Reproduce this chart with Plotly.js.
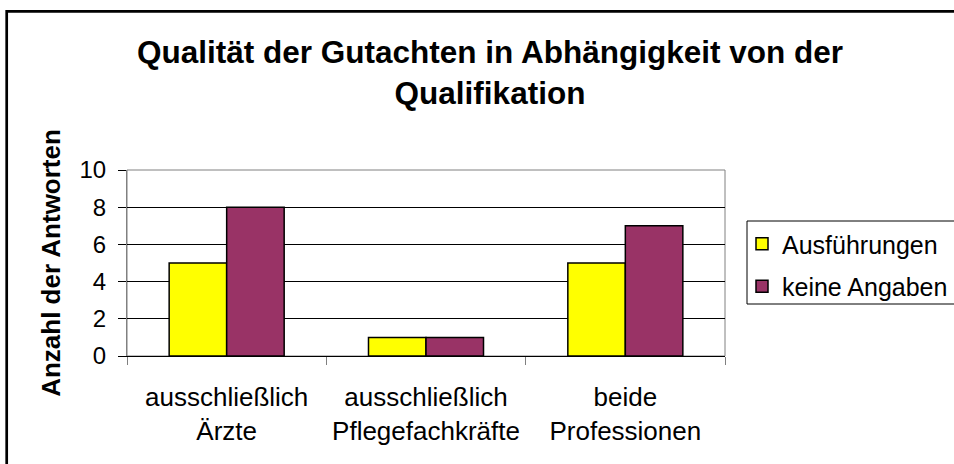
<!DOCTYPE html>
<html>
<head>
<meta charset="utf-8">
<script src="https://cdn.plot.ly/plotly-3.0.1.min.js"></script>
<style>
  html, body { margin: 0; padding: 0; background: #ffffff; }
  #chart { width: 954px; height: 464px; }
</style>
</head>
<body>
<div id="chart"></div>
<script>
const categories = ["ausschließlich Ärzte", "ausschließlich Pflegefachkräfte", "beide Professionen"];
const tickLabels = ["ausschließlich<br>Ärzte", "ausschließlich<br>Pflegefachkräfte", "beide<br>Professionen"];
const seriesNames = ["Ausführungen", "keine Angaben"];
const ausfuehrungen = [5, 1, 5];
const keineAngaben = [8, 1, 7];
const yTicks = [0, 2, 4, 6, 8, 10];

const FONT = "Liberation Sans, Arial, sans-serif";

const traces = [
  {
    type: "bar", name: seriesNames[0], x: categories, y: ausfuehrungen,
    legendgroup: "a",
    marker: { color: "#FFFF00", line: { color: "#000000", width: 1.5 } },
    hoverinfo: "x+y"
  },
  {
    type: "bar", name: seriesNames[1], x: categories, y: keineAngaben,
    legendgroup: "b",
    marker: { color: "#993366", line: { color: "#000000", width: 1.5 } },
    hoverinfo: "x+y"
  }
];

const layout = {
  width: 954, height: 464,
  paper_bgcolor: "#ffffff", plot_bgcolor: "#ffffff",
  margin: { l: 127, r: 229, t: 170, b: 108, pad: 0, autoexpand: false },
  font: { family: FONT, color: "#000000" },
  title: {
    text: "<b>Qualität der Gutachten in Abhängigkeit von der<br>Qualifikation</b>",
    font: { family: FONT, size: 31.5, color: "#000000" },
    x: 490 / 954, xanchor: "center",
    y: 1 - 63 / 464, yanchor: "middle", yref: "container"
  },
  barmode: "group",
  bargap: 0.423,
  bargroupgap: 0,
  showlegend: true,
  legend: {
    xref: "container", yref: "container",
    x: 742 / 954, xanchor: "left",
    y: 1 - 221 / 464, yanchor: "top",
    bgcolor: "rgba(0,0,0,0)", borderwidth: 0,
    font: { family: FONT, size: 25, color: "#000000" },
    traceorder: "grouped", tracegroupgap: 7
  },
  xaxis: {
    type: "category",
    tickmode: "array", tickvals: categories, ticktext: tickLabels,
    tickson: "boundaries", ticks: "outside", ticklen: 8, tickcolor: "#808080",
    ticklabelstandoff: 18,
    showline: true, linecolor: "#000000", linewidth: 1,
    showgrid: false, zeroline: false,
    tickfont: { family: FONT, size: 26, color: "#000000" },
    fixedrange: true
  },
  yaxis: {
    range: [0, 10],
    tickmode: "array", tickvals: yTicks,
    ticks: "outside", ticklen: 8, tickcolor: "#000000",
    ticklabelstandoff: 7,
    showline: true, linecolor: "#808080", linewidth: 1,
    showgrid: true, gridcolor: "#000000", gridwidth: 1,
    zeroline: false,
    tickfont: { family: FONT, size: 24, color: "#000000" },
    title: { text: "<b>Anzahl der Antworten</b>", font: { family: FONT, size: 26, color: "#000000" }, standoff: 11 },
    fixedrange: true
  },
  shapes: [
    { type: "rect", xref: "paper", yref: "paper", x0: 0, x1: 1, y0: 0, y1: 1,
      line: { color: "#808080", width: 1 }, layer: "below" },
    { type: "rect", xref: "paper", yref: "paper",
      x0: (747 - 127) / 598, x1: (980 - 127) / 598,
      y0: (356 - 304) / 186, y1: (356 - 221) / 186,
      line: { color: "#000000", width: 1 }, fillcolor: "rgba(0,0,0,0)" },
    { type: "rect", xref: "paper", yref: "paper",
      x0: (6.7 - 127) / 598, x1: (990 - 127) / 598,
      y0: (356 - 490) / 186, y1: (356 - 11.3) / 186,
      line: { color: "#000000", width: 2.7 }, fillcolor: "rgba(0,0,0,0)" }
  ]
};

Plotly.newPlot("chart", traces, layout, { displayModeBar: false, staticPlot: true });
</script>
</body>
</html>
